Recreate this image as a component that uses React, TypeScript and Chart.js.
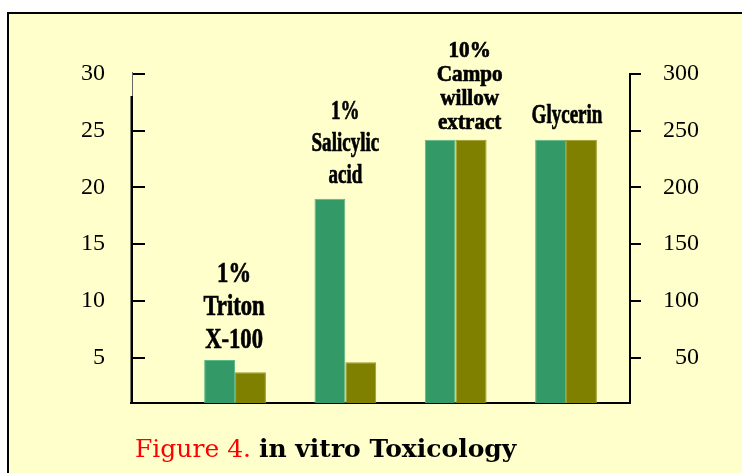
import React, { useEffect, useRef } from 'react';
import { Chart, registerables } from 'chart.js';

Chart.register(...registerables);

// ---- data ----
const categories: string[][] = [
  ['1%', 'Triton', 'X-100'],
  ['1%', 'Salicylic', 'acid'],
  ['10%', 'Campo', 'willow', 'extract'],
  ['Glycerin'],
];
const greenValues = [4.8, 19.0, 24.2, 24.2];
const oliveValues = [37, 46, 242, 242];
const leftTicks = [5, 10, 15, 20, 25, 30];
const rightTicks = [50, 100, 150, 200, 250, 300];
const captionPrefix = 'Figure 4.';
const captionTitle = 'in vitro Toxicology';

// ---- label styling (not data) ----
const labelFontSizes = [29, 28, 23, 28];
const labelScaleX = [0.78, 0.68, 0.92, 0.68];
const labelLineHeights = [33, 32, 24, 32];
const labelGaps = [12, 16, 11, 17];
const labelShiftX = [-1, 0, 14, 1];

const overlay = {
  id: 'overlay',
  afterDatasetsDraw(chart: any) {
    const ctx = chart.ctx as CanvasRenderingContext2D;
    const y = chart.scales.y;
    const area = chart.chartArea;
    ctx.save();
    // left axis line: thin top part, thick lower part
    ctx.strokeStyle = '#666';
    ctx.lineWidth = 1;
    ctx.beginPath();
    ctx.moveTo(area.left + 1.5, area.top - 2);
    ctx.lineTo(area.left + 1.5, area.top + 23);
    ctx.stroke();
    ctx.strokeStyle = '#000';
    ctx.lineWidth = 2.5;
    ctx.beginPath();
    ctx.moveTo(area.left + 0.75, area.top + 22);
    ctx.lineTo(area.left + 0.75, area.bottom + 1);
    ctx.stroke();
    // inward ticks on left axis
    ctx.lineWidth = 2;
    leftTicks.forEach((v) => {
      const py = Math.round(y.getPixelForValue(v));
      ctx.beginPath();
      ctx.moveTo(area.left + 2, py);
      ctx.lineTo(area.left + 14, py);
      ctx.stroke();
    });
    // category labels above bar groups
    const m0 = chart.getDatasetMeta(0);
    const m1 = chart.getDatasetMeta(1);
    ctx.fillStyle = '#000';
    ctx.textAlign = 'center';
    ctx.textBaseline = 'alphabetic';
    categories.forEach((lines, i) => {
      const b0 = m0.data[i];
      const b1 = m1.data[i];
      if (!b0 || !b1) return;
      const left = b0.x - b0.width / 2;
      const right = b1.x + b1.width / 2;
      const cx = (left + right) / 2 + labelShiftX[i];
      const top = Math.min(b0.y, b1.y);
      const size = labelFontSizes[i];
      const lh = labelLineHeights[i];
      ctx.font = `bold ${size}px "Liberation Serif", "Times New Roman", serif`;
      ctx.lineWidth = 0.7;
      ctx.strokeStyle = '#000';
      lines.forEach((t, j) => {
        const by = top - labelGaps[i] - (lines.length - 1 - j) * lh;
        ctx.save();
        ctx.translate(cx, by);
        ctx.scale(labelScaleX[i], 1);
        ctx.fillText(t, 0, 0);
        ctx.strokeText(t, 0, 0);
        ctx.restore();
      });
    });
    ctx.restore();
  },
};

export default function App() {
  const canvasRef = useRef<HTMLCanvasElement | null>(null);

  useEffect(() => {
    const canvas = canvasRef.current;
    if (!canvas) return;
    const serif = '"Liberation Serif", "Times New Roman", serif';
    const chart = new Chart(canvas, {
      type: 'bar',
      data: {
        datasets: [
          {
            label: 'green',
            data: greenValues.map((v, i) => ({ x: i, y: v })),
            backgroundColor: '#339966',
            borderColor: '#5cb88a',
            borderWidth: 1,
            yAxisID: 'y',
          },
          {
            label: 'olive',
            data: oliveValues.map((v, i) => ({ x: i, y: v })),
            backgroundColor: '#808000',
            borderColor: '#9a9a2a',
            borderWidth: 1,
            yAxisID: 'y2',
          },
        ],
      },
      plugins: [overlay],
      options: {
        animation: false,
        responsive: false,
        devicePixelRatio: 1,
        layout: { padding: { top: 74, bottom: 70, left: 0, right: 43 } },
        plugins: {
          legend: { display: false },
          tooltip: { enabled: false },
          title: { display: false },
        },
        datasets: {
          bar: { categoryPercentage: 0.56, barPercentage: 1 },
        },
        scales: {
          x: {
            type: 'linear',
            min: -0.943,
            max: 3.58,
            offset: false,
            afterBuildTicks: (s: any) => {
              s.ticks = categories.map((_, i) => ({ value: i }));
            },
            ticks: { display: false },
            grid: { display: false, offset: false },
            border: { display: true, color: '#000', width: 2 },
            afterFit: (s: any) => {
              s.height = 0;
            },
          },
          y: {
            position: 'left',
            min: 1,
            max: 30,
            afterBuildTicks: (s: any) => {
              s.ticks = leftTicks.map((v) => ({ value: v }));
            },
            afterFit: (s: any) => {
              s.width = 131;
            },
            grid: { display: false },
            border: { display: false },
            ticks: {
              color: '#000',
              padding: 18,
              crossAlign: 'near',
              font: { family: serif, size: 24 },
            },
          },
          y2: {
            position: 'right',
            min: 10,
            max: 300,
            afterBuildTicks: (s: any) => {
              s.ticks = rightTicks.map((v) => ({ value: v }));
            },
            afterFit: (s: any) => {
              s.width = 69;
            },
            grid: {
              display: true,
              drawOnChartArea: false,
              drawTicks: true,
              tickLength: 11,
              color: '#000',
              lineWidth: 2,
            },
            border: { display: true, color: '#000', width: 2 },
            ticks: {
              color: '#000',
              padding: 16,
              crossAlign: 'far',
              font: { family: serif, size: 24 },
            },
          },
        },
      } as any,
    });
    return () => chart.destroy();
  }, []);

  return (
    <div
      style={{
        position: 'fixed',
        left: 0,
        top: 0,
        width: 742,
        height: 473,
        overflow: 'hidden',
        background: '#fff',
      }}
    >
      <div
        style={{
          position: 'absolute',
          left: 7,
          top: 12,
          width: 800,
          height: 520,
          border: '2px solid #000',
          background: '#FFFFCC',
        }}
      />
      <canvas
        ref={canvasRef}
        width={742}
        height={473}
        style={{ position: 'absolute', left: 0, top: 0, width: 742, height: 473 }}
      />
      <div
        style={{
          position: 'absolute',
          left: 135,
          top: 434,
          fontFamily: '"DejaVu Serif", serif',
          fontSize: 25,
          lineHeight: '29px',
          whiteSpace: 'nowrap',
        }}
      >
        <span style={{ color: '#ff0000' }}>{captionPrefix}</span>{' '}
        <span style={{ color: '#000', fontWeight: 'bold' }}>{captionTitle}</span>
      </div>
    </div>
  );
}
